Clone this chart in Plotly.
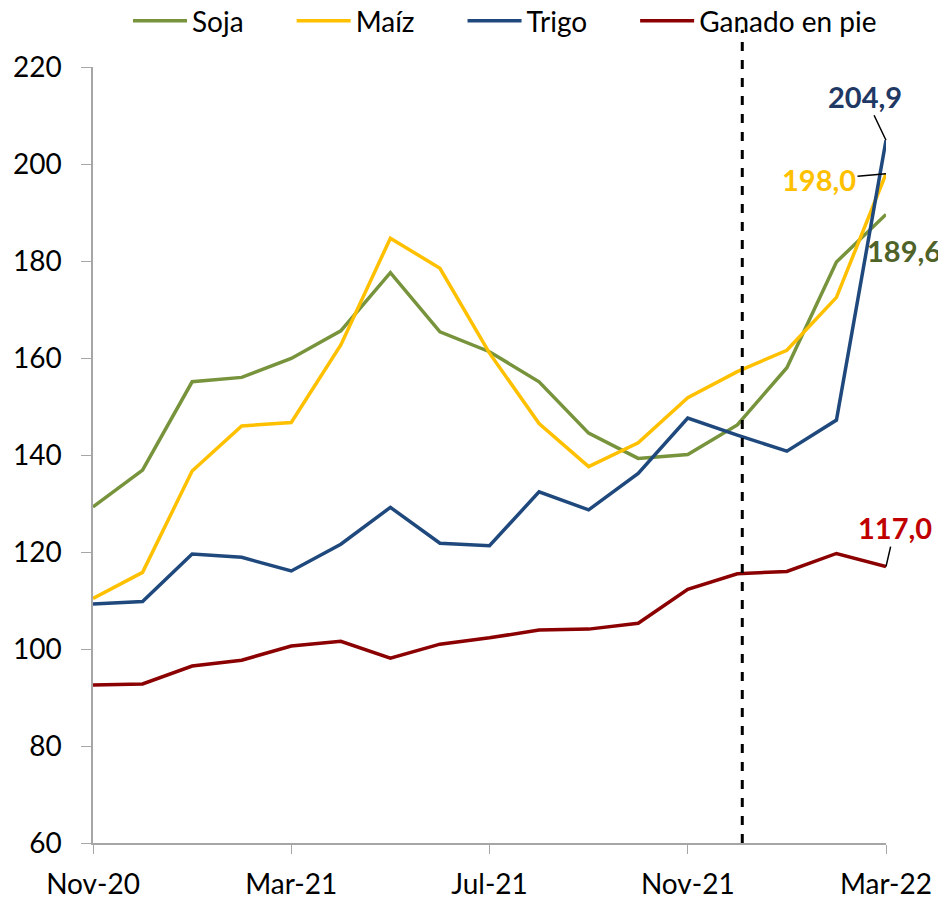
import plotly.graph_objects as go

months = ["Nov-20","Dec-20","Jan-21","Feb-21","Mar-21","Apr-21","May-21","Jun-21","Jul-21",
          "Aug-21","Sep-21","Oct-21","Nov-21","Dec-21","Jan-22","Feb-22","Mar-22"]
soja = [129.3,136.9,155.1,156.0,159.9,165.6,177.6,165.4,161.3,155.1,144.5,139.3,140.1,146.2,158.0,179.8,189.6]
maiz = [110.4,115.8,136.7,146.0,146.7,162.7,184.7,178.5,161.0,146.5,137.6,142.5,151.8,157.2,161.6,172.5,198.0]
trigo = [109.3,109.8,119.6,118.9,116.1,121.6,129.2,121.8,121.3,132.4,128.7,136.2,147.6,144.1,140.8,147.2,204.9]
ganado = [92.6,92.8,96.5,97.7,100.6,101.6,98.1,101.0,102.3,103.9,104.1,105.3,112.3,115.5,116.0,119.7,117.0]

tick_labels = ["Nov-20","Mar-21","Jul-21","Nov-21","Mar-22"]
y_ticks = [60,80,100,120,140,160,180,200,220]
x_idx = list(range(len(months)))
tick_idx = [months.index(t) for t in tick_labels]
cut_idx = 13.1  # vertical dashed separator position (between Dec-21 and Jan-22)

FONT = "Lato"
series = [
    ("Soja", soja, "#77933C"),
    ("Maíz", maiz, "#FFC000"),
    ("Trigo", trigo, "#1F497D"),
    ("Ganado en pie", ganado, "#8B0000"),
]

PAD = "\u00a0" * 6  # spacing between legend entries
fig = go.Figure()
for i, (name, vals, col) in enumerate(series):
    label = name + (PAD if i < len(series) - 1 else "")
    fig.add_trace(go.Scatter(x=x_idx, y=vals, mode="lines", name=label,
                             line=dict(color=col, width=3.5),
                             customdata=months, hovertemplate="%{customdata}: %{y}<extra>"+name+"</extra>"))

fig.add_shape(type="line", x0=cut_idx, x1=cut_idx, xref="x", yref="paper", y0=0, y1=1.048,
              line=dict(color="black", width=3, dash="dash"))

last = len(months) - 1
def fmt(v):
    return f"{v:.1f}".replace(".", ",")

LBL = 29
fig.add_annotation(x=last, y=trigo[-1], text=f"<b>{fmt(trigo[-1])}</b>", showarrow=True,
                   ax=-21, ay=-44, arrowhead=0, arrowwidth=1.5, arrowcolor="black",
                   font=dict(family=FONT, size=LBL, color="#1F3864"))
fig.add_annotation(x=last, y=maiz[-1], text=f"<b>{fmt(maiz[-1])}</b>", showarrow=True,
                   ax=-67, ay=6, arrowhead=0, arrowwidth=1.5, arrowcolor="black",
                   font=dict(family=FONT, size=LBL, color="#FFC000"))
fig.add_annotation(x=last, y=soja[-1], text=f"<b>{fmt(soja[-1])}</b>", showarrow=False,
                   xshift=18, yshift=-36,
                   font=dict(family=FONT, size=LBL, color="#4F6228"))
fig.add_annotation(x=last, y=ganado[-1], text=f"<b>{fmt(ganado[-1])}</b>", showarrow=True,
                   ax=9, ay=-39, arrowhead=0, arrowwidth=1.5, arrowcolor="black",
                   font=dict(family=FONT, size=LBL, color="#C00000"))

# page body has an 8px margin; figure sized to fill the rest of the window
fig.update_layout(
    width=938, height=893,
    margin=dict(l=85, r=60, t=59, b=58, autoexpand=False),
    paper_bgcolor="white", plot_bgcolor="white",
    font=dict(family=FONT, size=28, color="black"),
    showlegend=True,
    legend=dict(orientation="h", x=35 / 793, xanchor="left",
                y=(776 + 46) / 776, yanchor="middle",
                font=dict(family=FONT, size=28, color="black"), itemwidth=54,
                bgcolor="rgba(0,0,0,0)", tracegroupgap=0),
    xaxis=dict(range=[0, last], tickmode="array", tickvals=tick_idx, ticktext=tick_labels,
               showline=True, linecolor="#A6A6A6", linewidth=1.5, ticks="outside",
               ticklen=9, tickcolor="#A6A6A6", showgrid=False, zeroline=False,
               ticklabelstandoff=7,
               tickfont=dict(family=FONT, size=28, color="black")),
    yaxis=dict(range=[60, 220], tickmode="array", tickvals=y_ticks,
               showline=True, linecolor="#A6A6A6", linewidth=1.5, ticks="outside",
               ticklen=10, tickcolor="#A6A6A6", showgrid=False, zeroline=False,
               ticklabelstandoff=14,
               tickfont=dict(family=FONT, size=28, color="black")),
)

fig.write_html("out.html")
